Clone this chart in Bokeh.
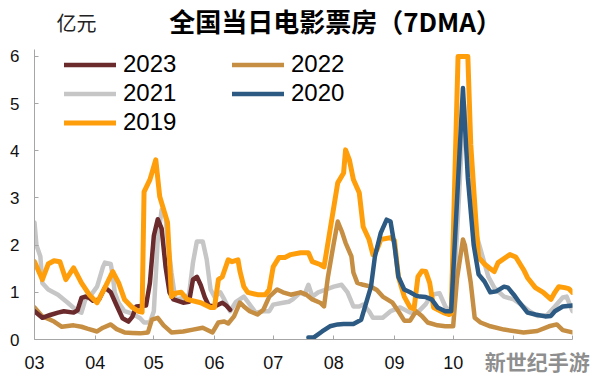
from bokeh.plotting import figure
from bokeh.layouts import column
from bokeh.models import Range1d, FixedTicker, Legend, LegendItem, Label, LinearAxis
from bokeh.embed import file_html
from bokeh.resources import INLINE

# ---- data: x = days since 1 March, y = daily box office (亿元, 7-day MA) ----
month_ticks = [0, 31, 61, 92, 122, 153, 184, 214, 245, 275]
month_labels = ["03", "04", "05", "06", "07", "08", "09", "10", "", ""]

d2023 = [0, 4, 8, 12, 15, 20, 22, 24, 26, 28, 30, 33, 36, 39, 42, 45, 48, 50, 52, 57,
         59, 61, 63, 65, 67, 69, 71, 76, 79, 81, 83, 85, 87, 89, 92, 96, 98, 100]
v2023 = [0.60, 0.46, 0.52, 0.57, 0.60, 0.57, 0.62, 0.88, 0.91, 0.88, 0.82, 0.85, 1.10, 1.00, 0.72, 0.45, 0.38, 0.48, 0.70, 0.72,
         1.20, 2.20, 2.55, 2.35, 1.54, 1.00, 0.85, 0.78, 0.80, 1.27, 1.33, 1.15, 0.90, 0.72, 0.70, 0.78, 0.72, 0.63]

d2022 = [0, 4, 8, 10, 14, 20, 24, 27, 32, 35, 39, 42, 46, 50, 54, 58, 60, 63, 66, 70,
         76, 81, 86, 91, 94, 97, 99, 102, 105, 107, 110, 114, 117, 120, 124, 127, 131, 136, 139, 142,
         146, 148, 150, 153, 155, 157, 159, 162, 163, 165, 168, 172, 175, 178, 183, 186, 189, 192, 195, 198,
         201, 206, 210, 214, 216, 219, 220, 223, 225, 228, 233, 240, 250, 257, 263, 267, 270, 275]
v2022 = [0.68, 0.49, 0.42, 0.38, 0.27, 0.30, 0.27, 0.23, 0.17, 0.25, 0.32, 0.22, 0.15, 0.14, 0.13, 0.15, 0.42, 0.46, 0.30, 0.15,
         0.17, 0.21, 0.25, 0.15, 0.36, 0.38, 0.34, 0.49, 0.78, 0.70, 0.60, 0.53, 0.63, 0.91, 1.06, 1.00, 0.95, 1.00, 0.95, 0.85,
         0.78, 0.70, 1.33, 2.05, 2.50, 2.30, 2.05, 1.76, 1.42, 1.20, 1.16, 1.12, 1.05, 0.91, 0.78, 0.60, 0.40, 0.40, 0.60, 0.50,
         0.36, 0.30, 0.28, 0.28, 1.30, 2.12, 2.00, 1.20, 0.46, 0.36, 0.28, 0.21, 0.15, 0.18, 0.28, 0.32, 0.20, 0.15]

d2021 = [0, 1, 3, 4, 7, 12, 17, 22, 24, 26, 29, 32, 35, 36, 39, 40, 41, 43, 46, 50,
         54, 56, 59, 61, 63, 65, 67, 68, 70, 72, 76, 79, 81, 83, 86, 88, 90, 92, 95, 97,
         100, 103, 107, 109, 113, 117, 120, 122, 127, 130, 132, 136, 138, 140, 142, 145, 149, 153, 157, 160,
         163, 166, 168, 171, 173, 178, 182, 187, 192, 196, 200, 203, 207, 210, 213, 215, 219.5, 223, 226, 229,
         232, 235, 240, 245, 250, 253, 257, 262, 266, 270, 272, 275]
v2021 = [2.48, 2.00, 1.76, 1.20, 1.06, 0.95, 0.78, 0.60, 0.57, 0.85, 0.95, 1.12, 1.54, 1.63, 1.60, 1.35, 1.00, 0.78, 0.60, 0.55,
         0.45, 0.36, 0.36, 0.60, 2.12, 2.75, 2.60, 2.12, 1.42, 0.85, 0.88, 0.95, 1.63, 2.08, 2.08, 1.70, 1.06, 0.91, 1.00, 0.85,
         0.60, 0.80, 0.91, 0.80, 0.57, 0.60, 0.60, 0.74, 0.78, 0.80, 0.85, 1.00, 0.95, 1.16, 0.91, 1.00, 1.06, 1.12, 1.16, 1.00,
         0.70, 0.70, 0.74, 0.60, 0.46, 0.46, 0.60, 0.68, 0.57, 0.58, 0.75, 0.95, 0.98, 0.70, 0.55, 1.50, 5.00, 3.50, 2.20, 1.76,
         1.33, 1.10, 0.91, 0.85, 0.70, 0.60, 0.50, 0.52, 0.70, 0.89, 0.91, 0.60]

d2020 = [140, 143, 147, 151, 155, 158, 163, 167, 169, 172, 174, 177, 180, 182, 184, 186, 189, 192, 195, 197,
         200, 203, 206, 210, 213, 219, 221.5, 224.5, 227, 230, 233, 236, 240, 242, 245, 248, 252, 256, 261, 264,
         266, 270, 275]
v2020 = [0.04, 0.05, 0.17, 0.28, 0.32, 0.33, 0.33, 0.42, 0.70, 1.12, 1.76, 2.26, 2.54, 2.50, 2.00, 1.33, 1.06, 1.00, 0.93, 0.91,
         0.90, 0.85, 0.68, 0.60, 0.60, 5.33, 3.43, 2.00, 1.38, 1.23, 1.00, 1.02, 1.12, 1.10, 0.95, 0.78, 0.57, 0.53, 0.49, 0.50,
         0.60, 0.70, 0.72]

d2019 = [0, 4, 7, 10, 13, 16, 20, 24, 28, 32, 36, 40, 43, 46, 50, 53, 55, 56, 59, 62,
         64, 68, 70, 72, 75, 78, 85, 90, 92, 94, 96, 99, 101, 104, 105, 107, 109, 114, 118, 120,
         122, 125, 128, 131, 136, 140, 142, 146, 148, 150, 155, 158, 159, 161, 163, 166, 168, 171, 173, 175,
         177, 182, 184, 186, 189, 192, 194, 196, 198, 200, 202, 204, 209, 212, 213, 216.5, 221.5, 223, 225.5, 227,
         230, 233, 235, 237, 243, 246, 250, 252, 256, 260, 264, 266, 268, 271, 273, 275]
v2019 = [1.65, 1.27, 1.60, 1.67, 1.65, 1.27, 1.52, 1.20, 0.95, 0.78, 1.10, 1.44, 1.20, 0.85, 0.68, 0.60, 0.58, 3.13, 3.39, 3.81,
         3.03, 2.48, 0.91, 0.98, 1.00, 0.85, 0.78, 0.68, 0.68, 1.27, 1.33, 1.69, 1.65, 1.69, 1.45, 1.12, 1.00, 0.95, 0.95, 1.06,
         1.54, 1.74, 1.74, 1.80, 1.84, 1.84, 1.65, 1.59, 1.54, 2.05, 3.32, 3.53, 4.02, 3.80, 3.39, 3.11, 2.39, 2.12, 1.80, 1.90,
         2.12, 2.16, 2.10, 1.33, 0.91, 0.68, 0.65, 1.33, 1.45, 1.44, 1.20, 0.68, 0.57, 0.53, 0.55, 6.00, 6.00, 4.13, 2.58, 1.74,
         1.60, 1.50, 1.44, 1.63, 1.80, 1.75, 1.48, 1.31, 1.10, 1.00, 0.85, 1.00, 1.12, 1.10, 1.08, 1.00]

y_ticks = [0, 1, 2, 3, 4, 5, 6]

TITLE = "全国当日电影票房（7DMA）"
UNIT = "亿元"
WATERMARK = "新世纪手游"
watermark_tick = 257

C2023 = "#6B2A2C"
C2022 = "#C68E42"
C2021 = "#C6C6C6"
C2020 = "#2C5A82"
C2019 = "#FF9E0B"

LATIN = "Liberation Sans"
CJK = "Noto Sans CJK SC"
AXIS = "#A6A6A6"

# ---------- header strip (title + unit) ----------
head = figure(width=594, height=40, output_backend="svg", toolbar_location=None,
              x_axis_type=None, y_axis_type=None, min_border=0,
              x_range=Range1d(0, 594), y_range=Range1d(0, 40))
head.outline_line_color = None
head.grid.grid_line_color = None
head.title.visible = False
head.add_layout(Label(x=301, y=20, x_units="screen", y_units="screen",
                      text=TITLE, text_align="center", text_baseline="middle",
                      text_font=CJK, text_font_size="26px", text_font_style="bold",
                      text_color="#000000"))
head.add_layout(Label(x=22, y=18, x_units="screen", y_units="screen",
                      text=UNIT, text_align="left", text_baseline="middle",
                      text_font=CJK, text_font_size="20px", text_color="#222222"))

# ---------- main chart ----------
p = figure(width=594, height=338, output_backend="svg", toolbar_location=None,
           x_range=Range1d(0, 275), y_range=Range1d(0, 6.148),
           min_border_left=34, min_border_right=22, min_border_top=9, min_border_bottom=38)
p.title.visible = False
p.outline_line_color = None
p.grid.grid_line_color = None
p.background_fill_color = "white"
p.border_fill_color = "white"

kw = dict(line_join="round", line_cap="round")
r21 = p.line(d2021, v2021, line_color=C2021, line_width=4.5, **kw)
r22 = p.line(d2022, v2022, line_color=C2022, line_width=4.5, **kw)
r23 = p.line(d2023, v2023, line_color=C2023, line_width=4.5, **kw)
r19 = p.line(d2019, v2019, line_color=C2019, line_width=5, **kw)
r20 = p.line(d2020, v2020, line_color=C2020, line_width=4.5, **kw)

xa = p.xaxis[0]
xa.ticker = FixedTicker(ticks=month_ticks)
xa.major_label_overrides = {t: l for t, l in zip(month_ticks, month_labels)}
ya = p.yaxis[0]
ya.ticker = FixedTicker(ticks=y_ticks)
for ax in (xa, ya):
    ax.axis_line_color = AXIS
    ax.major_tick_line_color = AXIS
    ax.major_tick_in = 4
    ax.major_tick_out = 0
    ax.minor_tick_line_color = None
    ax.major_label_text_font = LATIN
    ax.major_label_text_color = "#111111"
xa.major_label_text_font_size = "18px"
xa.major_label_standoff = 16
ya.major_label_text_font_size = "17px"
ya.major_label_standoff = 15

# watermark drawn as a label-only axis pulled up into the tick-label band
wm = LinearAxis(ticker=FixedTicker(ticks=[watermark_tick]),
                major_label_overrides={watermark_tick: WATERMARK},
                axis_line_color=None, major_tick_line_color=None, minor_tick_line_color=None,
                major_label_standoff=-32, major_label_text_font=CJK,
                major_label_text_font_size="21px", major_label_text_font_style="bold",
                major_label_text_color="#7a7a7a", major_label_text_alpha=0.85)
p.add_layout(wm, "below")

legend = Legend(items=[LegendItem(label="2023", renderers=[r23]),
                       LegendItem(label="2022", renderers=[r22]),
                       LegendItem(label="2021", renderers=[r21]),
                       LegendItem(label="2020", renderers=[r20]),
                       LegendItem(label="2019", renderers=[r19])],
                location=(30, 203), orientation="horizontal", ncols=2,
                glyph_width=52, glyph_height=25, label_height=25, label_width=108,
                label_standoff=7, spacing=1, padding=0, margin=0,
                border_line_color=None, background_fill_alpha=0,
                label_text_font=LATIN, label_text_font_size="24px",
                label_text_color="#000000")
p.add_layout(legend, "center")

layout = column(head, p, spacing=0)
open("out.html", "w").write(file_html(layout, INLINE))
